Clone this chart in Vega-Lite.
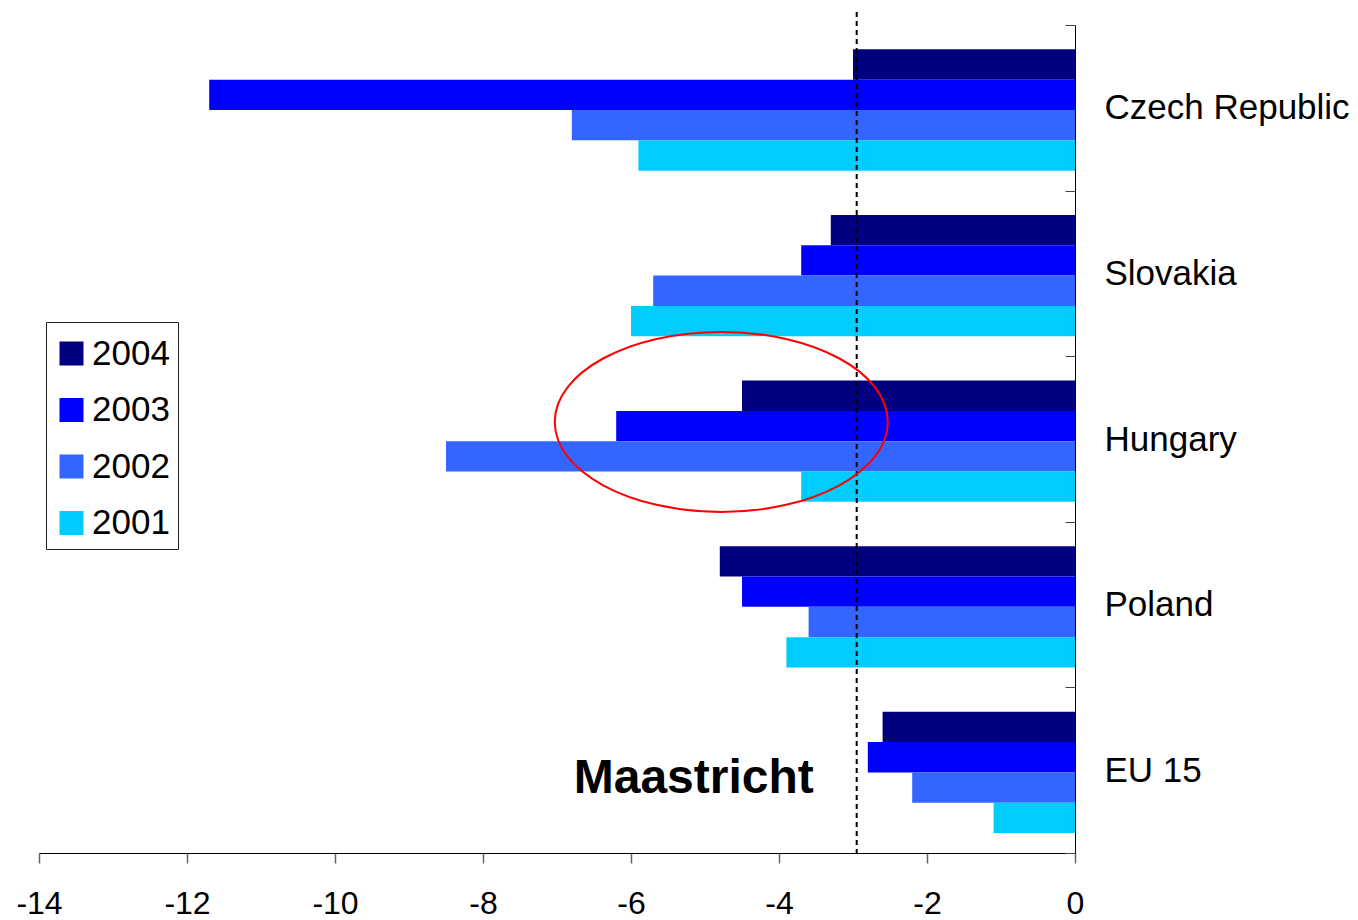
{
  "$schema": "https://vega.github.io/schema/vega-lite/v6.json",
  "width": 1036,
  "height": 828,
  "autosize": {"type": "none"},
  "padding": {"left": 39, "top": 25, "right": 283, "bottom": 67},
  "background": "white",
  "config": {
    "view": {"stroke": null},
    "font": "Liberation Sans",
    "axis": {"grid": false}
  },
  "datasets": {
    "deficits": [
      {"country": "Czech Republic", "year": "2004", "value": -3.0},
      {"country": "Czech Republic", "year": "2003", "value": -11.7},
      {"country": "Czech Republic", "year": "2002", "value": -6.8},
      {"country": "Czech Republic", "year": "2001", "value": -5.9},
      {"country": "Slovakia", "year": "2004", "value": -3.3},
      {"country": "Slovakia", "year": "2003", "value": -3.7},
      {"country": "Slovakia", "year": "2002", "value": -5.7},
      {"country": "Slovakia", "year": "2001", "value": -6.0},
      {"country": "Hungary", "year": "2004", "value": -4.5},
      {"country": "Hungary", "year": "2003", "value": -6.2},
      {"country": "Hungary", "year": "2002", "value": -8.5},
      {"country": "Hungary", "year": "2001", "value": -3.7},
      {"country": "Poland", "year": "2004", "value": -4.8},
      {"country": "Poland", "year": "2003", "value": -4.5},
      {"country": "Poland", "year": "2002", "value": -3.6},
      {"country": "Poland", "year": "2001", "value": -3.9},
      {"country": "EU 15", "year": "2004", "value": -2.6},
      {"country": "EU 15", "year": "2003", "value": -2.8},
      {"country": "EU 15", "year": "2002", "value": -2.2},
      {"country": "EU 15", "year": "2001", "value": -1.1}
    ]
  },
  "layer": [
    {
      "data": {"name": "deficits"},
      "mark": {"type": "bar"},
      "encoding": {
        "y": {
          "field": "country",
          "type": "nominal",
          "scale": {
            "domain": ["Czech Republic", "Slovakia", "Hungary", "Poland", "EU 15"],
            "paddingInner": 0,
            "paddingOuter": 0
          },
          "axis": {
            "orient": "right",
            "title": null,
            "tickBand": "extent",
            "tickSize": -10,
            "tickColor": "#444444",
            "tickWidth": 1,
            "labelPadding": 39,
            "labelLimit": 400,
            "labelFontSize": 35,
            "labelColor": "black",
            "labelAlign": "left",
            "labelBaseline": "middle",
            "domainColor": "black",
            "domainWidth": 1
          }
        },
        "x": {
          "field": "value",
          "type": "quantitative",
          "scale": {"domain": [-14, 0], "nice": false, "zero": false},
          "axis": {
            "title": null,
            "values": [-14, -12, -10, -8, -6, -4, -2, 0],
            "labelExpr": "'' + datum.value",
            "labelFlush": false,
            "labelOverlap": false,
            "labelFontSize": 32,
            "labelColor": "black",
            "labelPadding": 25,
            "tickSize": 10,
            "tickColor": "#666666",
            "tickWidth": 1.5,
            "domainColor": "black",
            "domainWidth": 1
          }
        },
        "yOffset": {
          "field": "year",
          "type": "nominal",
          "scale": {
            "domain": ["2004", "2003", "2002", "2001"],
            "paddingInner": 0,
            "paddingOuter": 0.73,
            "align": 0.55
          }
        },
        "color": {
          "field": "year",
          "type": "nominal",
          "scale": {
            "domain": ["2004", "2003", "2002", "2001"],
            "range": ["#000080", "#0000FF", "#3366FF", "#00CCFF"]
          },
          "legend": {
            "title": " ",
            "titleFontSize": 1,
            "titlePadding": 5,
            "orient": "none",
            "legendX": 7,
            "legendY": 297,
            "direction": "vertical",
            "symbolType": "square",
            "symbolSize": 576,
            "symbolStrokeWidth": 0,
            "symbolOpacity": 1,
            "labelFontSize": 35,
            "labelColor": "black",
            "labelOffset": 3,
            "padding": 8,
            "rowPadding": 20.5,
            "strokeColor": "#222222",
            "fillColor": "white"
          }
        }
      }
    },
    {
      "data": {"values": [{"level": -2.95}]},
      "mark": {
        "type": "rule",
        "color": "black",
        "strokeWidth": 2,
        "strokeDash": [5, 4],
        "yOffset": -13,
        "y2Offset": 9
      },
      "encoding": {
        "x": {"field": "level", "type": "quantitative"}
      }
    },
    {
      "data": {"values": [{"center": -4.78, "country": "Hungary", "year": "2003"}]},
      "mark": {
        "type": "point",
        "shape": "M -1 -0.025 A 1 0.5405 0 1 1 1 -0.025 A 1 0.5405 0 1 1 -1 -0.025 Z",
        "filled": false,
        "color": "#FF0000",
        "strokeWidth": 2,
        "size": 110889,
        "opacity": 1
      },
      "encoding": {
        "x": {"field": "center", "type": "quantitative"},
        "y": {"field": "country", "type": "nominal"},
        "yOffset": {"field": "year", "type": "nominal"}
      }
    },
    {
      "data": {"values": [{"label": "Maastricht", "pos": -3.53, "country": "EU 15"}]},
      "mark": {
        "type": "text",
        "align": "right",
        "baseline": "middle",
        "dy": 9,
        "fontSize": 48,
        "fontWeight": "bold",
        "color": "black"
      },
      "encoding": {
        "x": {"field": "pos", "type": "quantitative"},
        "y": {"field": "country", "type": "nominal"},
        "text": {"field": "label"}
      }
    }
  ]
}
